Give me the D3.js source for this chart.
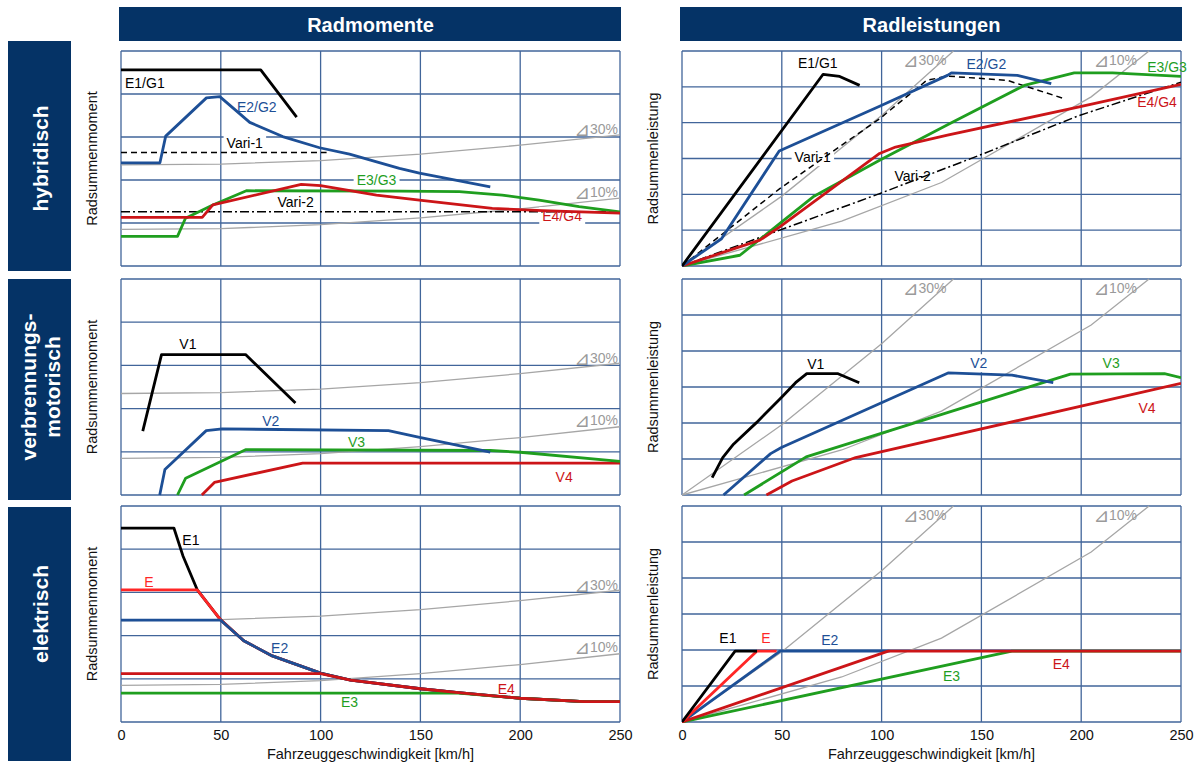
<!DOCTYPE html>
<html>
<head>
<meta charset="utf-8">
<script src="https://cdn.jsdelivr.net/npm/d3@7"></script>
<style>
  body { margin: 0; background: #fff; }
  text { font-family: Arial, "Liberation Sans", "DejaVu Sans", sans-serif; }
</style>
</head>
<body>
<div id="chart"></div>
<script>
const width = 1196
const height = 763

// --- data (x = km/h, y = grid units) ---
const speedTicks = [0, 50, 100, 150, 200, 250]
const colTitles = ["Radmomente", "Radleistungen"]
const rowTitles = [["hybridisch"], ["verbrennungs-", "motorisch"], ["elektrisch"]]
const yTitles = ["Radsummenmoment", "Radsummenleistung"]
const xTitle = "Fahrzeuggeschwindigkeit [km/h]"

// driving resistance at 30% / 10% grade
const grade30Torque = [[0, 2.35], [50, 2.37], [100, 2.45], [150, 2.6], [200, 2.81], [250, 3.05]]
const grade10Torque = [[0, 0.85], [50, 0.87], [100, 0.96], [150, 1.12], [200, 1.33], [250, 1.58]]
const grade30Power = [[0, 0], [50, 1.95], [100, 4.2], [136, 6]]
const grade10Power = [[0, 0], [80, 1.25], [130, 2.33], [205, 4.72], [234, 6]]
const gradeNames = ["30%", "10%"]

// hybridisch
const hybE1G1Torque = [[0, 4.56], [70, 4.56], [88, 3.46]]
const hybE2G2Torque = [[0, 2.4], [19.5, 2.4], [22.4, 3.02], [42.8, 3.91], [49.5, 3.94], [64.5, 3.34], [81, 3.01], [99.5, 2.75], [114.5, 2.6], [139.5, 2.27], [149.5, 2.16], [185, 1.84]]
const hybE3G3Torque = [[0, 0.69], [28.3, 0.69], [32.3, 1.11], [46, 1.42], [62.8, 1.75], [139.5, 1.74], [169.5, 1.73], [191, 1.65], [209.5, 1.53], [229.5, 1.38], [250, 1.26]]
const hybE4G4Torque = [[0, 1.13], [40.7, 1.13], [46, 1.42], [90.3, 1.9], [100, 1.87], [128, 1.65], [149.5, 1.53], [186, 1.34], [211, 1.29], [250, 1.23]]
const hybVari1Torque = [[0, 2.64], [103, 2.64]]
const hybVari2Torque = [[0, 1.26], [250, 1.26]]

const hybE1G1Power = [[0, 0], [70.7, 5.35], [79, 5.29], [89, 5.04]]
const hybE2G2Power = [[0, 0], [19.8, 0.76], [48.7, 3.21], [99, 4.46], [133, 5.32], [135, 5.39], [168, 5.32], [185, 5.09]]
const hybE3G3Power = [[0, 0], [29, 0.3], [50, 1.23], [65.7, 1.93], [99, 2.95], [134, 3.97], [171.5, 5.04], [196.5, 5.39], [215.7, 5.39], [250, 5.29]]
const hybE4G4Power = [[0, 0], [39, 0.72], [49, 1.09], [99, 3.14], [107, 3.32], [133, 3.65], [199, 4.44], [250, 5.07]]
const hybVari1Power = [[0, 0], [49, 2.16], [99, 4.11], [122.6, 5.18], [133, 5.3], [163, 5.18], [191.5, 4.67]]
const hybVari2Power = [[0, 0], [49, 1.0], [99, 2.02], [149, 3.09], [199, 4.2], [250, 5.13]]

// verbrennungsmotorisch
const iceV1Torque = [[10.9, 1.48], [20.3, 3.25], [62.4, 3.25], [87.4, 2.13]]
const iceV2Torque = [[19.4, 0], [22, 0.59], [42.7, 1.49], [50.7, 1.53], [134, 1.49], [149, 1.34], [185, 0.99]]
const iceV3Torque = [[28.3, 0], [32.4, 0.39], [62.4, 1.05], [185, 1.03], [200, 0.99], [250, 0.78]]
const iceV4Torque = [[40.5, 0], [46.8, 0.29], [91, 0.74], [250, 0.74]]

const iceV1Power = [[15.1, 0.48], [20.4, 1.04], [25.8, 1.41], [37.3, 2.01], [49.8, 2.71], [56.9, 3.12], [62.5, 3.37], [78.2, 3.37], [88.8, 3.12]]
const iceV2Power = [[20.8, 0], [44.4, 1.15], [49.8, 1.32], [133.3, 3.39], [165.3, 3.33], [186, 3.12]]
const iceV3Power = [[31.1, 0], [62.2, 1.06], [194.6, 3.36], [241.7, 3.37], [250, 3.26]]
const iceV4Power = [[42.3, 0], [55.1, 0.39], [87, 1.04], [250, 3.1]]

// elektrisch
const elE1Torque = [[0, 4.49], [26.5, 4.49], [31, 3.85], [38.2, 3.06], [49.8, 2.37], [61.5, 1.88], [75.8, 1.53], [100, 1.13], [115, 0.97], [150, 0.77], [169, 0.68], [200, 0.55], [232, 0.47], [250, 0.47]]
const elETorque = [[0, 3.06], [38.2, 3.06], [49.8, 2.37], [61.5, 1.88], [75.8, 1.53], [100, 1.13]]
const elE2Torque = [[0, 2.36], [49.8, 2.36], [61.5, 1.88], [75.8, 1.53], [100, 1.13], [115, 0.97], [150, 0.77], [169, 0.68], [200, 0.55], [232, 0.47], [250, 0.47]]
const elE3Torque = [[0, 0.67], [169, 0.67], [200, 0.55], [232, 0.47], [250, 0.47]]
const elE4Torque = [[0, 1.12], [100, 1.12], [115, 0.97], [150, 0.77], [169, 0.68], [200, 0.55], [232, 0.47], [250, 0.47]]

const elE1Power = [[0, 0], [26.6, 1.97], [37.6, 1.97]]
const elEPower = [[0, 0], [37.6, 1.97], [47.4, 1.97]]
const elE2Power = [[0, 0], [49.1, 1.97], [104, 1.97]]
const elE3Power = [[0, 0], [165.3, 1.97], [250, 1.97]]
const elE4Power = [[0, 0], [103.3, 1.97], [250, 1.97]]

// --- styles ---
const navy = "#053366"
const gridColor = "#41659a"
const gray = "#a6a6a6"
const black = "#000000"
const blue = "#1d4f96"
const green = "#1f9e1f"
const red = "#cc1518"
const brightRed = "#ff2626"

const solid = (data, color) => ({data, color, width: 2.8, dash: null})
const dashed = (data, dash) => ({data, color: black, width: 1.5, dash})

const panels = [
  {row: 0, col: 0,
    series: [dashed(hybVari2Torque, "9,3,2,3"), dashed(hybVari1Torque, "6,4"),
      solid(hybE3G3Torque, green), solid(hybE4G4Torque, red), solid(hybE2G2Torque, blue), solid(hybE1G1Torque, black)],
    labels: [
      {t: "E1/G1", v: 2, u: 4.26, c: black, a: "start"},
      {t: "E2/G2", v: 68, u: 3.7, c: blue},
      {t: "Vari-1", v: 62, u: 2.86, c: black, bg: true},
      {t: "E3/G3", v: 128, u: 2.0, c: green, bg: true},
      {t: "Vari-2", v: 87.5, u: 1.49, c: black, bg: true},
      {t: "E4/G4", v: 221, u: 1.16, c: red, bg: true}]},
  {row: 0, col: 1,
    series: [dashed(hybVari2Power, "9,3,2,3"), dashed(hybVari1Power, "6,4"),
      solid(hybE3G3Power, green), solid(hybE4G4Power, red), solid(hybE2G2Power, blue), solid(hybE1G1Power, black)],
    labels: [
      {t: "E1/G1", v: 68, u: 5.66, c: black},
      {t: "E2/G2", v: 152.5, u: 5.65, c: blue},
      {t: "Vari-1", v: 65.5, u: 3.04, c: black, bg: true},
      {t: "Vari-2", v: 115.5, u: 2.51, c: black, bg: true},
      {t: "E3/G3", v: 243, u: 5.55, c: green},
      {t: "E4/G4", v: 238, u: 4.58, c: red}]},
  {row: 1, col: 0,
    series: [solid(iceV4Torque, red), solid(iceV3Torque, green), solid(iceV2Torque, blue), solid(iceV1Torque, black)],
    labels: [
      {t: "V1", v: 33.5, u: 3.5, c: black},
      {t: "V2", v: 75, u: 1.72, c: blue},
      {t: "V3", v: 118, u: 1.23, c: green},
      {t: "V4", v: 222, u: 0.42, c: red, bg: true}]},
  {row: 1, col: 1,
    series: [solid(iceV4Power, red), solid(iceV3Power, green), solid(iceV2Power, blue), solid(iceV1Power, black)],
    labels: [
      {t: "V1", v: 67, u: 3.64, c: black},
      {t: "V2", v: 148.7, u: 3.66, c: blue, bg: true},
      {t: "V3", v: 215, u: 3.66, c: green},
      {t: "V4", v: 233, u: 2.43, c: red, bg: true}]},
  {row: 2, col: 0,
    series: [solid(elE1Torque, black), solid(elETorque, brightRed), solid(elE2Torque, blue), solid(elE3Torque, green), solid(elE4Torque, red)],
    labels: [
      {t: "E1", v: 35, u: 4.22, c: black},
      {t: "E", v: 14, u: 3.24, c: brightRed},
      {t: "E2", v: 79.5, u: 1.71, c: blue},
      {t: "E4", v: 193, u: 0.76, c: red, bg: true},
      {t: "E3", v: 114.5, u: 0.46, c: green, bg: true}]},
  {row: 2, col: 1,
    series: [solid(elE2Power, blue), solid(elE3Power, green), solid(elE4Power, red), solid(elEPower, brightRed), solid(elE1Power, black)],
    labels: [
      {t: "E1", v: 23, u: 2.32, c: black},
      {t: "E", v: 42, u: 2.32, c: brightRed},
      {t: "E2", v: 74, u: 2.29, c: blue},
      {t: "E4", v: 190, u: 1.62, c: red, bg: true},
      {t: "E3", v: 135, u: 1.27, c: green}]}
]

// grade label anchors (right end of text), per column
const gradeLabelPos = [
  [{v: 249, u: 3.18}, {v: 249, u: 1.73}],
  [{v: 132.5, u: 5.74}, {v: 228, u: 5.74}]
]

// --- layout ---
const colX = [[121, 620], [682, 1181]]
const rowY = [[51, 266], [279, 495], [506, 722]]
const rowBox = [[41, 271], [279, 500], [507, 761]]
const yMax = [5, 6]

const svg = d3.select("#chart")
  .append("svg")
  .attr("width", width)
  .attr("height", height)

const defs = svg.append("defs")

// column headers
colTitles.forEach((t, i) => {
  svg.append("rect")
    .attr("x", colX[i][0] - 2).attr("y", 7)
    .attr("width", colX[i][1] - colX[i][0] + 3).attr("height", 34)
    .attr("fill", navy)
  svg.append("text")
    .attr("x", (colX[i][0] + colX[i][1]) / 2).attr("y", 25)
    .attr("text-anchor", "middle").attr("dominant-baseline", "central")
    .attr("fill", "#fff").attr("font-weight", "bold").attr("font-size", 20)
    .text(t)
})

// row headers
rowTitles.forEach((lines, i) => {
  svg.append("rect")
    .attr("x", 8).attr("y", rowBox[i][0])
    .attr("width", 63).attr("height", rowBox[i][1] - rowBox[i][0])
    .attr("fill", navy)
  const cy = (rowY[i][0] + rowY[i][1]) / 2
  lines.forEach((line, j) => {
    const cx = 40 + (j - (lines.length - 1) / 2) * 24
    svg.append("text")
      .attr("transform", `translate(${cx},${cy}) rotate(-90)`)
      .attr("text-anchor", "middle").attr("dominant-baseline", "central")
      .attr("fill", "#fff").attr("font-weight", "bold").attr("font-size", 21)
      .text(line)
  })
})

panels.forEach((p, idx) => {
  const [x0, x1] = colX[p.col]
  const [y0, y1] = rowY[p.row]
  const xScale = d3.scaleLinear().domain([0, 250]).range([x0, x1])
  const yScale = d3.scaleLinear().domain([0, yMax[p.col]]).range([y1, y0])
  const g = svg.append("g")

  // grid
  g.selectAll(".hgrid").data(d3.range(0, yMax[p.col] + 1)).join("line")
    .attr("x1", x0).attr("x2", x1)
    .attr("y1", d => yScale(d)).attr("y2", d => yScale(d))
    .attr("stroke", gridColor).attr("stroke-width", 1.3)
  g.selectAll(".vgrid").data(speedTicks).join("line")
    .attr("x1", d => xScale(d)).attr("x2", d => xScale(d))
    .attr("y1", y0).attr("y2", y1)
    .attr("stroke", gridColor).attr("stroke-width", 1.3)

  // y title
  svg.append("text")
    .attr("transform", `translate(${x0 - 24},${(y0 + y1) / 2}) rotate(-90)`)
    .attr("text-anchor", "middle").attr("font-size", 14.5).attr("fill", "#111")
    .text(yTitles[p.col])

  // clip
  defs.append("clipPath").attr("id", "clip" + idx)
    .append("rect").attr("x", x0).attr("y", y0 - 1).attr("width", x1 - x0).attr("height", y1 - y0 + 2)

  const line = d3.line().x(d => xScale(d[0])).y(d => yScale(d[1]))
  const plot = g.append("g").attr("clip-path", `url(#clip${idx})`)

  const greys = p.col === 0 ? [grade30Torque, grade10Torque] : [grade30Power, grade10Power]
  plot.selectAll(".grade").data(greys).join("path")
    .attr("d", line).attr("fill", "none")
    .attr("stroke", gray).attr("stroke-width", 1.3)

  // grade labels: triangle glyph + percentage
  gradeLabelPos[p.col].forEach((l, k) => {
    const t = g.append("text")
      .attr("x", xScale(l.v)).attr("y", yScale(l.u))
      .attr("text-anchor", "end").attr("dominant-baseline", "central")
      .attr("font-size", 14).attr("fill", "#9a9a9a")
    t.append("tspan").attr("font-family", "'DejaVu Sans', sans-serif")
      .attr("font-size", 19).text("\u22BF")
    t.append("tspan").text(gradeNames[k])
  })

  // labels with white boxes go under the series lines
  const labelG = g.append("g")
  const seriesG = g.append("g").attr("clip-path", `url(#clip${idx})`)

  seriesG.selectAll("path").data(p.series).join("path")
    .attr("d", d => line(d.data)).attr("fill", "none")
    .attr("stroke", d => d.color).attr("stroke-width", d => d.width)
    .attr("stroke-dasharray", d => d.dash)
    .attr("stroke-linejoin", "round")

  p.labels.forEach(l => {
    const lg = (l.bg ? labelG : g).append("g")
    const txt = lg.append("text")
      .attr("x", xScale(l.v)).attr("y", yScale(l.u))
      .attr("text-anchor", l.a || "middle").attr("dominant-baseline", "central")
      .attr("font-size", 14).attr("fill", l.c)
      .text(l.t)
    if (l.bg) {
      const b = txt.node().getBBox()
      lg.insert("rect", "text")
        .attr("x", b.x - 3).attr("y", b.y - 1)
        .attr("width", b.width + 6).attr("height", b.height + 2)
        .attr("fill", "#fff")
    }
  })

  // x axis on bottom row only
  if (p.row === 2) {
    const axis = d3.axisBottom(xScale).tickValues(speedTicks).tickSize(0).tickPadding(0)
    const ax = svg.append("g").attr("transform", `translate(0,${y1 + 8})`).call(axis)
    ax.select(".domain").remove()
    ax.selectAll("text").attr("font-size", 14.5).attr("fill", "#111")
      .attr("font-family", "Arial, 'Liberation Sans', sans-serif")
    svg.append("text")
      .attr("x", (x0 + x1) / 2).attr("y", y1 + 37)
      .attr("text-anchor", "middle").attr("font-size", 14.5).attr("fill", "#111")
      .text(xTitle)
  }
})
</script>
</body>
</html>
